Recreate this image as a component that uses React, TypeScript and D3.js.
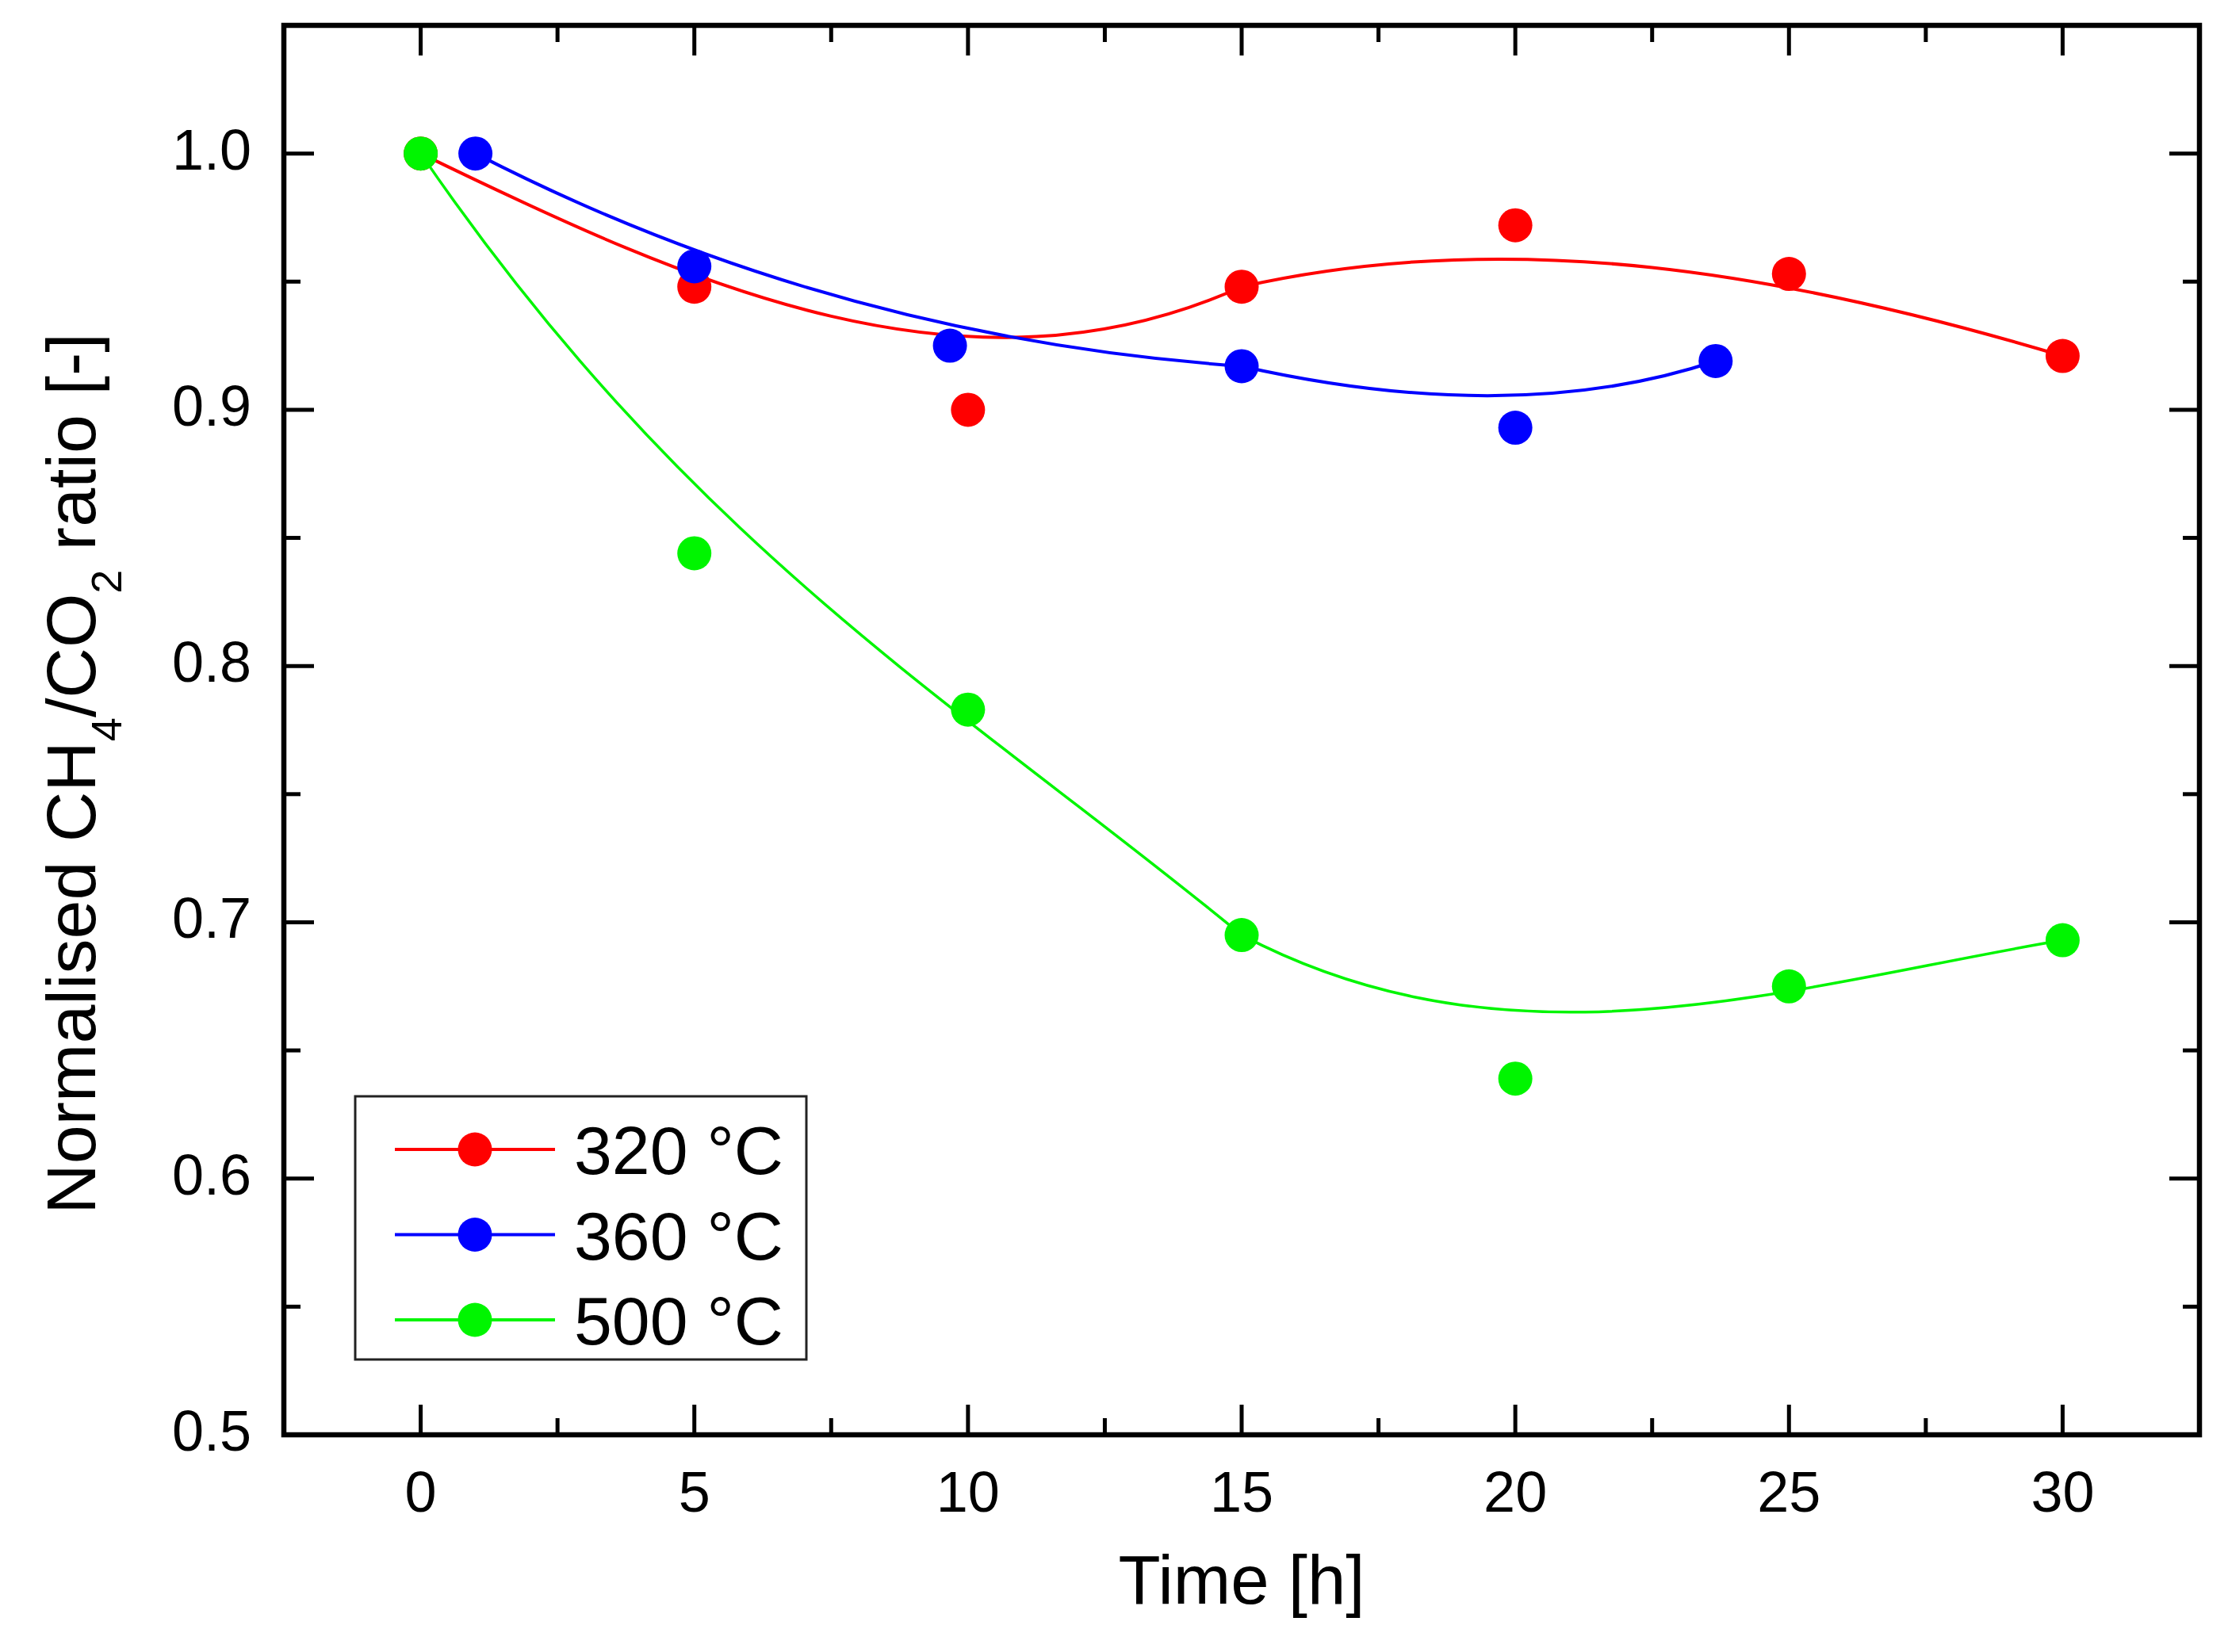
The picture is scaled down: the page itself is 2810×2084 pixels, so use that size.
import * as d3 from "d3";

// Measured series (time in h, normalised CH4/CO2 ratio)
const time320 = [0, 5, 10, 15, 20, 25, 30];
const ratio320 = [1.0, 0.948, 0.9, 0.948, 0.972, 0.953, 0.921];

const time360 = [1.0, 5, 9.67, 15, 20, 23.66];
const ratio360 = [1.0, 0.956, 0.925, 0.917, 0.893, 0.919];

const time500 = [0, 5, 10, 15, 20, 25, 30];
const ratio500 = [1.0, 0.844, 0.783, 0.695, 0.639, 0.675, 0.693];

const seriesLabels = ["320 °C", "360 °C", "500 °C"];
const seriesColors = ["#ff0000", "#0000ff", "#00f500"];

// Axis ticks
const xMajor = [0, 5, 10, 15, 20, 25, 30];
const xMinor = [2.5, 7.5, 12.5, 17.5, 22.5, 27.5];
const yMajor = [0.5, 0.6, 0.7, 0.8, 0.9, 1.0];
const yMinor = [0.55, 0.65, 0.75, 0.85, 0.95];

const W = 2810;
const H = 2084;
const margin = { top: 32, right: W - 2774, bottom: H - 1810, left: 358 };

const x = d3
  .scaleLinear()
  .domain([-2.5, 32.5])
  .range([margin.left, W - margin.right]);
const y = d3
  .scaleLinear()
  .domain([0.5, 1.05])
  .range([H - margin.bottom, margin.top]);

const series = [
  { t: time320, v: ratio320 },
  { t: time360, v: ratio360 },
  { t: time500, v: ratio500 },
];

// Origin-style bezier connection: data points act as control points
const bezierPath = (t: number[], v: number[]) => {
  const p = t.map((d, i) => [x(d), y(v[i])] as [number, number]);
  const path = d3.path();
  path.moveTo(p[0][0], p[0][1]);
  let i = 1;
  while (i + 2 < p.length) {
    path.bezierCurveTo(p[i][0], p[i][1], p[i + 1][0], p[i + 1][1], p[i + 2][0], p[i + 2][1]);
    i += 3;
  }
  if (p.length - i === 2) {
    path.quadraticCurveTo(p[i][0], p[i][1], p[i + 1][0], p[i + 1][1]);
  } else if (p.length - i === 1) {
    path.lineTo(p[i][0], p[i][1]);
  }
  return path.toString();
};

const font = "'Liberation Sans', Arial, sans-serif";
const R = 21.5;

const App = () => {
  const x0 = margin.left;
  const x1 = W - margin.right;
  const y0 = H - margin.bottom;
  const y1 = margin.top;
  const major = 38;
  const minor = 21;

  return (
    <svg
      width={W}
      height={H}
      viewBox={`0 0 ${W} ${H}`}
      style={{ position: "absolute", left: 0, top: 0, background: "#fff" }}
      fontFamily={font}
    >
      <rect width={W} height={H} fill="#fff" />

      {/* ticks on all four sides, pointing inward */}
      <g stroke="#000" strokeWidth={5}>
        {xMajor.map(d => (
          <g key={`xM${d}`}>
            <line x1={x(d)} x2={x(d)} y1={y0} y2={y0 - major} />
            <line x1={x(d)} x2={x(d)} y1={y1} y2={y1 + major} />
          </g>
        ))}
        {xMinor.map(d => (
          <g key={`xm${d}`}>
            <line x1={x(d)} x2={x(d)} y1={y0} y2={y0 - minor} />
            <line x1={x(d)} x2={x(d)} y1={y1} y2={y1 + minor} />
          </g>
        ))}
        {yMajor.map(d => (
          <g key={`yM${d}`}>
            <line x1={x0} x2={x0 + major} y1={y(d)} y2={y(d)} />
            <line x1={x1} x2={x1 - major} y1={y(d)} y2={y(d)} />
          </g>
        ))}
        {yMinor.map(d => (
          <g key={`ym${d}`}>
            <line x1={x0} x2={x0 + minor} y1={y(d)} y2={y(d)} />
            <line x1={x1} x2={x1 - minor} y1={y(d)} y2={y(d)} />
          </g>
        ))}
      </g>

      {/* frame */}
      <rect x={x0} y={y1} width={x1 - x0} height={y0 - y1} fill="none" stroke="#000" strokeWidth={6.5} />

      {/* tick labels */}
      <g fontSize={72} fill="#000">
        {xMajor.map(d => (
          <text key={`xl${d}`} x={x(d)} y={y0 + 97} textAnchor="middle">
            {d}
          </text>
        ))}
        {yMajor.map(d => (
          <text key={`yl${d}`} x={x0 - 41} y={y(d) + 20} textAnchor="end">
            {d.toFixed(1)}
          </text>
        ))}
      </g>

      {/* axis titles */}
      <text x={(x0 + x1) / 2} y={2023} fontSize={87} textAnchor="middle" fill="#000">
        Time [h]
      </text>
      <text transform="translate(120,976) rotate(-90)" fontSize={88} textAnchor="middle" fill="#000">
        Normalised CH
        <tspan fontSize={54} dy={33}>
          4
        </tspan>
        <tspan dy={-33}>/CO</tspan>
        <tspan fontSize={54} dy={33}>
          2
        </tspan>
        <tspan dy={-33}> ratio [-]</tspan>
      </text>

      {/* series */}
      {series.map((s, i) => (
        <g key={`s${i}`}>
          <path
            d={bezierPath(s.t, s.v)}
            fill="none"
            stroke={seriesColors[i]}
            strokeWidth={i === 2 ? 3.5 : 4}
          />
          {s.t.map((t, j) => (
            <circle key={j} cx={x(t)} cy={y(s.v[j])} r={R} fill={seriesColors[i]} />
          ))}
        </g>
      ))}

      {/* legend */}
      <rect x={448} y={1383} width={569} height={332} fill="#fff" stroke="#222" strokeWidth={3} />
      {seriesLabels.map((label, i) => {
        const ly = 1450 + i * 107.5;
        return (
          <g key={label}>
            <line x1={498} x2={700} y1={ly} y2={ly} stroke={seriesColors[i]} strokeWidth={4} />
            <circle cx={599} cy={ly} r={R} fill={seriesColors[i]} />
            <text x={724} y={ly + 31} fontSize={86} fill="#000">
              {label}
            </text>
          </g>
        );
      })}
    </svg>
  );
};

export default App;
